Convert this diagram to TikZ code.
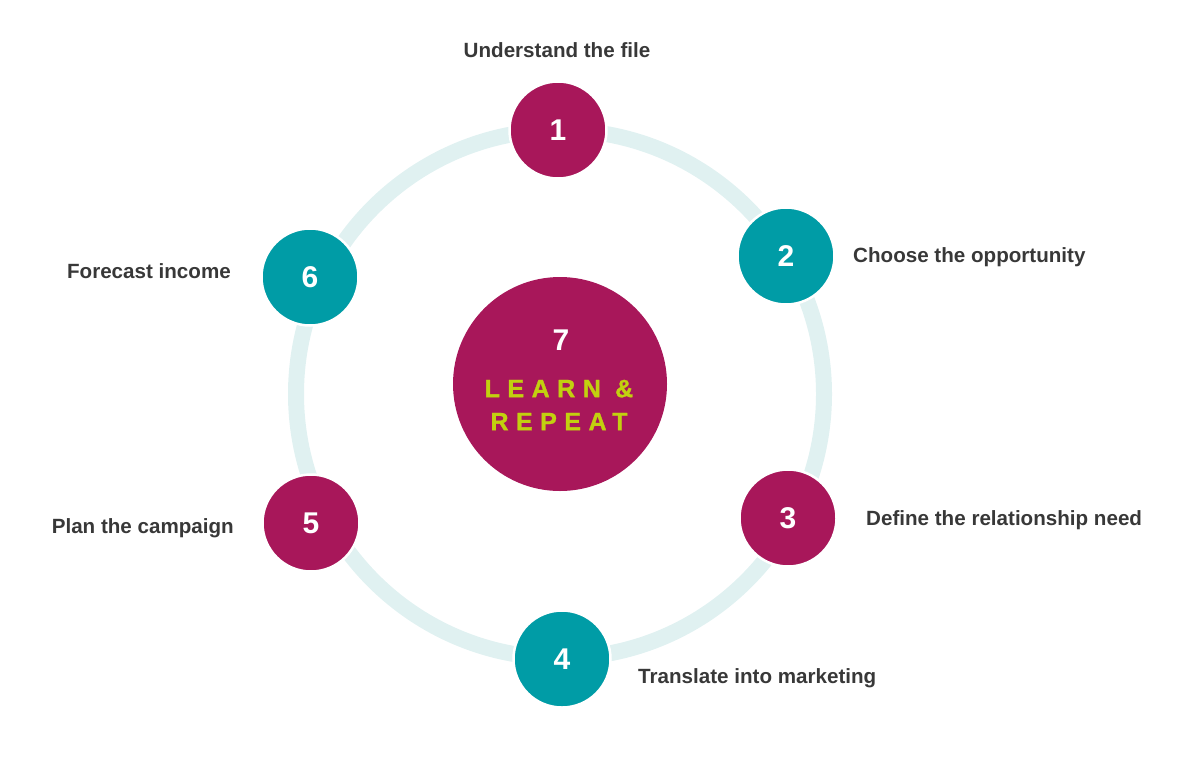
\documentclass[tikz,border=0pt]{standalone}
\usepackage{fontspec}
\setmainfont{Liberation Sans}
\usepackage{xcolor}
\definecolor{Berry}{HTML}{A8175A}
\definecolor{Lagoon}{HTML}{009CA6}
\definecolor{RingMist}{HTML}{E0F1F1}
\definecolor{Lime}{HTML}{C2D00F}
\definecolor{LabelGrey}{HTML}{383838}
\usetikzlibrary{positioning}

\tikzset{
    stepdot/.style={circle, minimum size=97pt, inner sep=0pt, draw=white, line width=2.5pt,
        text=white, font=\bfseries\fontsize{30}{30}\selectfont},
    berry/.style={stepdot, fill=Berry},
    lagoon/.style={stepdot, fill=Lagoon},
    steplabel/.style={text=LabelGrey, font=\bfseries\fontsize{20.6}{24}\selectfont, inner sep=0pt},
}

\begin{document}
\begin{tikzpicture}[x=1pt, y=-1pt]
    \useasboundingbox (0,0) rectangle (1198,756);
    % ring behind the steps
    \draw[RingMist, line width=16pt] (560,394) circle[radius=264];

    \node[berry]  (s1) at (558,130) {1};
    \node[lagoon] (s2) at (786,256) {2};
    \node[berry]  (s3) at (788,518) {3};
    \node[lagoon] (s4) at (562,659) {4};
    \node[berry]  (s5) at (311,523) {5};
    \node[lagoon] (s6) at (310,277) {6};

    % centre
    \node[circle, fill=Berry, minimum size=214pt, inner sep=0pt] (s7) at (560,384) {};
    \node[text=white, font=\bfseries\fontsize{30}{30}\selectfont] (n7) at (561,340) {7};
    \node[text=Lime, font=\bfseries\fontsize{25}{33}\selectfont\addfontfeature{LetterSpace=30,FakeBold=1.2},
        align=center] (learn) at (559,405) {LEARN \&\\REPEAT};

    % labels
    \node[steplabel] (l1) at (557,50) {Understand the file};
    \node[steplabel, anchor=west] (l2) at (853,257) {Choose the opportunity};
    \node[steplabel, anchor=west] (l3) at (866,520) {Define the relationship need};
    \node[steplabel, anchor=west] (l4) at (638,678) {Translate into marketing};
    \node[steplabel, anchor=east] (l5) at (234,528) {Plan the campaign};
    \node[steplabel, anchor=east] (l6) at (231,271) {Forecast income};
\end{tikzpicture}
\end{document}
